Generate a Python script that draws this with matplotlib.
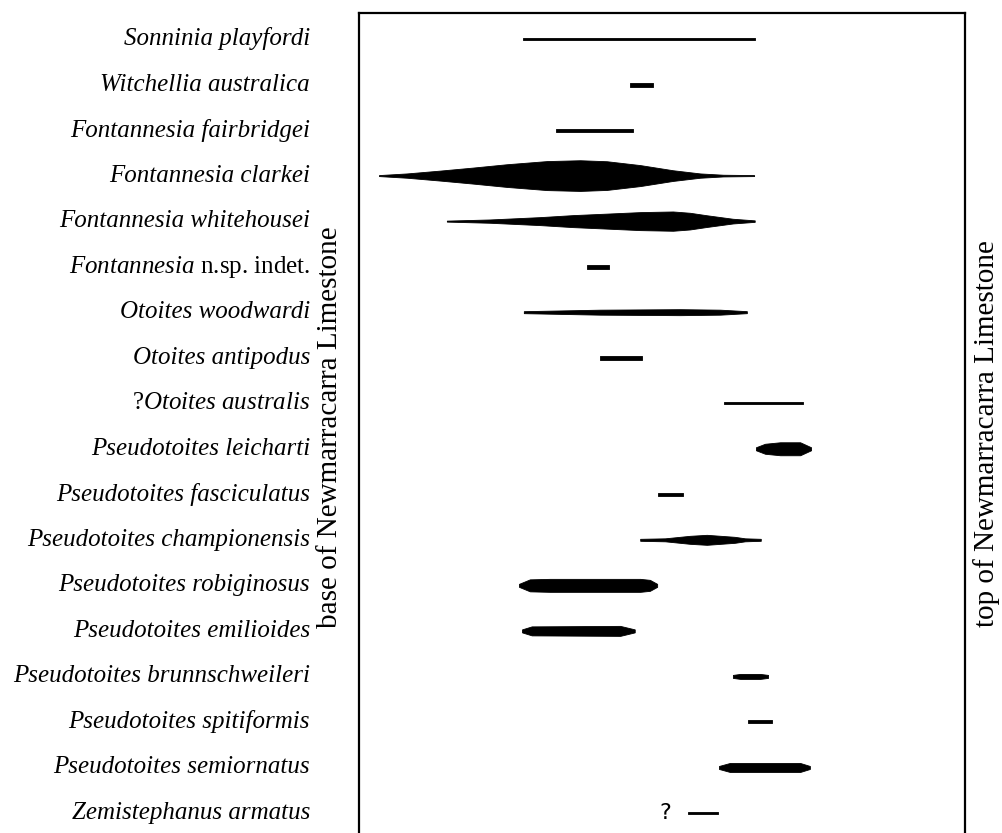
import matplotlib
matplotlib.use('Agg')
import matplotlib.pyplot as plt

plt.rcParams['font.family'] = ['Liberation Serif', 'DejaVu Serif']
plt.rcParams['mathtext.fontset'] = 'custom'
plt.rcParams['mathtext.rm'] = 'Liberation Serif'
plt.rcParams['mathtext.it'] = 'Liberation Serif:italic'

# 物种名（从上到下）
species = [
    'Sonninia playfordi',
    'Witchellia australica',
    'Fontannesia fairbridgei',
    'Fontannesia clarkei',
    'Fontannesia whitehousei',
    r'$\mathit{Fontannesia}$ n.sp. indet.',
    'Otoites woodwardi',
    'Otoites antipodus',
    r'?$\mathit{Otoites\ australis}$',
    'Pseudotoites leicharti',
    'Pseudotoites fasciculatus',
    'Pseudotoites championensis',
    'Pseudotoites robiginosus',
    'Pseudotoites emilioides',
    'Pseudotoites brunnschweileri',
    'Pseudotoites spitiformis',
    'Pseudotoites semiornatus',
    'Zemistephanus armatus',
]
mixed_style = [False] * 5 + [True] + [False] * 2 + [True] + [False] * 9

# 地层位置（0=底, 100=顶）以及对应的丰度（相对粗细）
pos_sonninia = [27.1, 65.3]
abd_sonninia = [2.5, 2.5]
pos_witchellia = [44.7, 48.5]
abd_witchellia = [4, 4]
pos_fairbridgei = [32.5, 45.2]
abd_fairbridgei = [3, 3]
pos_clarkei = [3.3, 7.9, 13.4, 18.8, 24.4, 31.0, 36.5, 40.9, 46.4, 51.8, 56.3, 60.1, 65.2]
abd_clarkei = [1, 4.3, 10, 16, 22.7, 29, 30.7, 28.7, 21, 10.7, 4.3, 1.7, 1]
pos_whitehousei = [14.5, 21.6, 29.9, 35.3, 40.9, 46.4, 51.8, 54.6, 57.4, 61.7, 65.3]
abd_whitehousei = [1, 3.3, 8, 12, 15, 18, 19.3, 16.7, 11.7, 4.7, 1.5]
pos_nsp = [37.6, 41.3]
abd_nsp = [4, 4]
pos_woodwardi = [27.2, 39.8, 53.0, 59.6, 64.0]
abd_woodwardi = [2, 5, 6, 5, 2]
pos_antipodus = [39.8, 46.7]
abd_antipodus = [4, 4]
pos_australis = [60.2, 73.3]
abd_australis = [2, 2]
pos_leicharti = [65.5, 67.0, 69.5, 72.8, 74.6]
abd_leicharti = [3, 10, 13, 13, 3]
pos_fasciculatus = [49.3, 53.5]
abd_fasciculatus = [3, 3]
pos_championensis = [46.4, 50.5, 54.6, 57.4, 62.0, 63.7, 66.3]
abd_championensis = [2, 3, 8, 10, 6, 3, 2]
pos_robiginosus = [26.4, 28.2, 31.5, 46.4, 48.0, 49.2]
abd_robiginosus = [3, 12, 13, 13, 11, 3]
pos_emilioides = [26.9, 28.5, 43.1, 45.5]
abd_emilioides = [3, 9, 10, 3]
pos_brunnschweileri = [61.7, 62.9, 66.2, 67.5]
abd_brunnschweileri = [3, 5, 5, 3]
pos_spitiformis = [64.2, 68.2]
abd_spitiformis = [3, 3]
pos_semiornatus = [59.4, 61.2, 72.8, 74.4]
abd_semiornatus = [3, 9, 9, 3]
pos_armatus = [54.3, 59.2]
abd_armatus = [2.5, 2.5]
question_pos = 50.5  # Zemistephanus 前面的问号

ranges = [
    (pos_sonninia, abd_sonninia),
    (pos_witchellia, abd_witchellia),
    (pos_fairbridgei, abd_fairbridgei),
    (pos_clarkei, abd_clarkei),
    (pos_whitehousei, abd_whitehousei),
    (pos_nsp, abd_nsp),
    (pos_woodwardi, abd_woodwardi),
    (pos_antipodus, abd_antipodus),
    (pos_australis, abd_australis),
    (pos_leicharti, abd_leicharti),
    (pos_fasciculatus, abd_fasciculatus),
    (pos_championensis, abd_championensis),
    (pos_robiginosus, abd_robiginosus),
    (pos_emilioides, abd_emilioides),
    (pos_brunnschweileri, abd_brunnschweileri),
    (pos_spitiformis, abd_spitiformis),
    (pos_semiornatus, abd_semiornatus),
    (pos_armatus, abd_armatus),
]

W, H = 1002, 833
fig = plt.figure(figsize=(W / 100, H / 100), dpi=100)
# 框：左 359px，右 965px，上 13px，底部开口
ax = fig.add_axes([359 / W, 0, (965 - 359) / W, 1 - 13 / H])
ax.set_xlim(0, 100)
row_px = 45.53
ax.set_ylim(17 + 20 / row_px, -26 / row_px)
ax.set_xticks([])
ax.set_yticks([])
for side in ['left', 'right', 'top']:
    ax.spines[side].set_linewidth(1.6)
ax.spines['bottom'].set_visible(False)

scale = 1.0 / row_px  # 丰度单位 -> 行高
for i, (xs, ws) in enumerate(ranges):
    lo = [i - w * scale / 2 for w in ws]
    hi = [i + w * scale / 2 for w in ws]
    ax.fill_between(xs, lo, hi, color='black', lw=0.6, edgecolor='black')

ax.text(question_pos, 17, '?', ha='center', va='center', fontsize=16,
        family='DejaVu Sans')

label_x = (310 - 359) / 606
trans = ax.get_yaxis_transform()
for i, name in enumerate(species):
    style = 'normal' if mixed_style[i] else 'italic'
    ax.text(label_x, i, name, transform=trans, ha='right', va='center',
            fontsize=18, fontstyle=style)

ax.text((330 - 359) / 606, 0.495, 'base of Newmarracarra Limestone',
        transform=ax.transAxes, rotation=90, ha='center', va='center',
        fontsize=21)
ax.text((987 - 359) / 606, 0.487, 'top of Newmarracarra Limestone',
        transform=ax.transAxes, rotation=90, ha='center', va='center',
        fontsize=21)

fig.savefig('out.png', dpi=100)
